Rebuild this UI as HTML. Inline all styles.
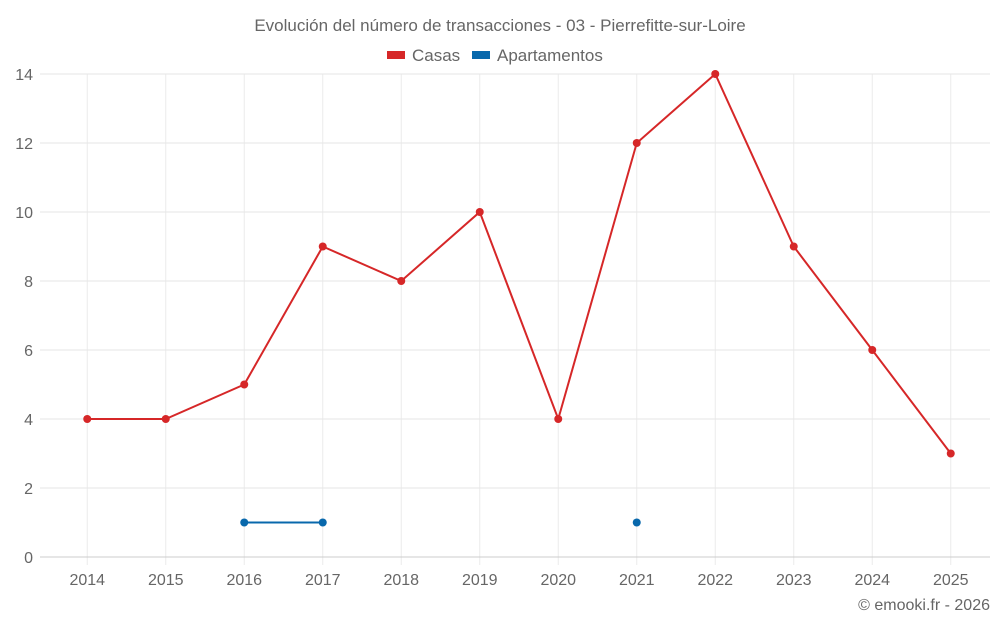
<!DOCTYPE html>
<html><head><meta charset="utf-8"><style>
body{margin:0;background:#fff;font-family:"Liberation Sans",sans-serif;}
svg text{font-family:"Liberation Sans",sans-serif;fill:#666;}
</style></head><body>
<svg id="c" width="1000" height="625">
<text x="500" y="31" text-anchor="middle" font-size="17">Evolución del número de transacciones - 03 - Pierrefitte-sur-Loire</text>
<g>
<g><rect x="387" y="51" width="18" height="8" fill="#d62728"/><text x="412" y="61" font-size="17">Casas</text></g>
<g><rect x="472" y="51" width="18" height="8" fill="#0868ac"/><text x="497" y="61" font-size="17">Apartamentos</text></g>
</g>
<g id="grid"></g><g id="axes"></g><g id="series"></g>
<text x="990" y="610" text-anchor="end" font-size="16">© emooki.fr - 2026</text>
</svg>
<script>
const categories=["2014","2015","2016","2017","2018","2019","2020","2021","2022","2023","2024","2025"];
const casas=[4,4,5,9,8,10,4,12,14,9,6,3];
const apartamentos=[null,null,1,1,null,null,null,1,null,null,null,null];
const yTicks=[0,2,4,6,8,10,12,14];
const L=48,R=990,T=74,B=557,yMax=14;
const bw=(R-L)/categories.length;
const x=i=>L+bw*(i+0.5);
const y=v=>B-(v/yMax)*(B-T);
const NS="http://www.w3.org/2000/svg";
function mk(t,a,p){const e=document.createElementNS(NS,t);for(const k in a)e.setAttribute(k,a[k]);p.appendChild(e);return e;}
const g=document.getElementById('grid'),ax=document.getElementById('axes'),s=document.getElementById('series');
categories.forEach((c,i)=>{
 const l=mk('line',{x1:x(i),x2:x(i),y1:T,y2:B+8,stroke:'#ececec'},g);
 
 
 const t=mk('text',{x:x(i),y:585,'text-anchor':'middle','font-size':16},ax);t.textContent=c;
 
 
});
yTicks.forEach(v=>{
 const l=mk('line',{x1:40,x2:R,y1:y(v),y2:y(v),stroke:v===0?'#ccc':'#e6e6e6'},g);
 
 
 const t=mk('text',{x:33,y:y(v)+6,'text-anchor':'end','font-size':16},ax);t.textContent=v;
 
 
});
function draw(data,color,name){
 let segs=[],cur=[];
 data.forEach((v,i)=>{if(v==null){if(cur.length)segs.push(cur);cur=[];}else cur.push([x(i),y(v)]);});
 if(cur.length)segs.push(cur);
 segs.forEach(sg=>{if(sg.length>1){const p=mk('polyline',{points:sg.map(q=>q.join(',')).join(' '),fill:'none',stroke:color,'stroke-width':2},s);
  
  }});
 data.forEach((v,i)=>{if(v==null)return;const c=mk('circle',{cx:x(i),cy:y(v),r:4,fill:color},s);
  
  });
}
draw(casas,'#d62728','casas');
draw(apartamentos,'#0868ac','apartamentos');
</script>
</body></html>
